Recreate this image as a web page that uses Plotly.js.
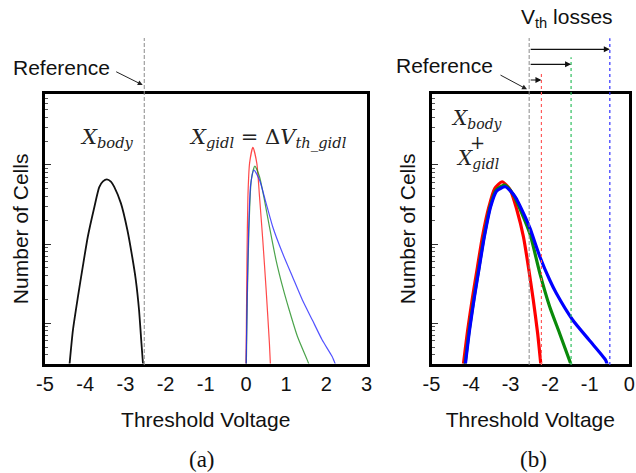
<!DOCTYPE html>
<html>
<head>
<meta charset="utf-8">
<script src="https://cdn.plot.ly/plotly-3.0.1.min.js"></script>
<style>html,body{margin:0;padding:0;background:#fff;}#chart{width:636px;height:473px;}</style>
</head>
<body>
<div id="chart"></div>
<script>
// ---------- data ----------
// x tick labels
const xTickValsA = [-5, -4, -3, -2, -1, 0, 1, 2, 3];
const xTickTextA = ['-5', '-4', '-3', '-2', '-1', '0', '1', '2', '3'];
const xTickValsB = [-5, -4, -3, -2, -1, 0];
const xTickTextB = ['-5', '-4', '-3', '-2', '-1', '0'];

// panel (a): X_body distribution
const bodyX = [-4.39, -4.305, -4.18, -4.06, -3.935, -3.77, -3.65, -3.558, -3.46, -3.36, -3.28, -3.11, -2.95, -2.83, -2.74, -2.66, -2.60, -2.56];
const bodyY = [3.0, 8.2, 21.7, 51.9, 124, 297, 525, 620, 658, 617, 533, 327, 151, 69.3, 35.2, 14.7, 5.6, 3.0];

// panel (a): X_gidl distributions
const gidlRedX = [0.0, 0.01, 0.025, 0.049, 0.091, 0.173, 0.271, 0.338, 0.419, 0.503, 0.584, 0.609];
const gidlRedY = [3.0, 8.2, 57.7, 396, 1057, 1667, 1047, 396, 113, 26.3, 5.6, 3.0];
const gidlGreenX = [0.01, 0.035, 0.074, 0.133, 0.222, 0.338, 0.461, 0.584, 0.749, 0.912, 1.077, 1.282, 1.529, 1.571];
const gidlGreenY = [3.0, 21.7, 151, 644, 968, 710, 360, 166, 63, 29, 14.7, 6.8, 3.4, 3.0];
const gidlBlueX = [0.005, 0.03, 0.067, 0.116, 0.197, 0.338, 0.503, 0.666, 0.912, 1.159, 1.405, 1.652, 1.898, 2.145, 2.229];
const gidlBlueY = [3.0, 21.7, 151, 557, 863, 645, 327, 166, 76.6, 38.7, 19.7, 11, 6.15, 3.8, 3.0];

// panel (b): X_body + X_gidl distributions
const sumRedX = [-4.195, -4.085, -3.96, -3.836, -3.712, -3.547, -3.398, -3.213, -3.006, -2.84, -2.675, -2.55, -2.426, -2.316, -2.234];
const sumRedY = [3.0, 8.2, 21.7, 51.9, 124, 297, 507, 614, 482, 270, 124, 51.9, 19.7, 7.5, 3.0];
const sumGreenX = [-4.153, -4.046, -3.921, -3.797, -3.672, -3.517, -3.368, -3.149, -2.924, -2.715, -2.508, -2.259, -2.01, -1.761, -1.47];
const sumGreenY = [3.0, 8.2, 21.7, 51.9, 124, 297, 482, 557, 417, 245, 134, 42.8, 16.2, 7.5, 3.0];
const sumBlueX = [-4.145, -4.038, -3.914, -3.789, -3.664, -3.505, -3.355, -3.131, -2.882, -2.633, -2.508, -2.259, -2.01, -1.843, -1.429, -1.013, -0.597, -0.557];
const sumBlueY = [3.0, 8.2, 21.7, 51.9, 124, 297, 468, 531, 396, 222, 158, 69.3, 35.2, 23.9, 11.0, 6.15, 3.44, 3.0];

// reference and Vth-loss marker positions (threshold voltage)
const refX = -2.53;
const lossX = [-2.22, -1.47, -0.49];
const lossColors = ['#ff5a5a', '#2fbf5f', '#3030ff'];

// ---------- helpers ----------
const W = 636, H = 473;
const px = v => v / W;
const py = v => 1 - v / H;
const SANS = 'Liberation Sans, Arial, sans-serif';
const SERIF = 'Liberation Serif, Times New Roman, serif';
const MATH = 'DejaVu Serif, serif';

// log-axis tick positions
const majorVals = [10, 100, 1000];
const minorVals = [];
[1, 10, 100, 1000].forEach(d => { for (let k = 2; k <= 9; k++) minorVals.push(k * d); });

function line(x, y, color, width, xa, ya) {
  return { x: x, y: y, xaxis: xa, yaxis: ya, type: 'scatter', mode: 'lines',
    line: { color: color, width: width, shape: 'spline', smoothing: 0.6 }, hoverinfo: 'skip', showlegend: false };
}

const data = [
  line(bodyX, bodyY, '#111111', 1.8, 'x', 'y'),
  line(gidlRedX, gidlRedY, 'rgba(255,40,40,0.85)', 1.2, 'x', 'y'),
  line(gidlGreenX, gidlGreenY, 'rgba(30,140,30,0.8)', 1.2, 'x', 'y'),
  line(gidlBlueX, gidlBlueY, 'rgba(40,40,255,0.8)', 1.2, 'x', 'y'),
  line(sumRedX, sumRedY, '#ff0000', 3.2, 'x2', 'y2'),
  line(sumGreenX, sumGreenY, '#0a8a0a', 3.2, 'x2', 'y2'),
  line(sumBlueX, sumBlueY, '#0000ff', 3.2, 'x2', 'y2')
];

function xAxis(dom, rng, tv, tt) {
  return {
    domain: dom, range: rng, tickvals: tv, ticktext: tt, ticks: '',
    showline: true, mirror: true, linecolor: '#000', linewidth: 3,
    showgrid: false, zeroline: false, fixedrange: true,
    tickfont: { family: SANS, size: 20, color: '#111' },
    title: { text: 'Threshold Voltage', font: { family: SANS, size: 21, color: '#111' }, standoff: 19 }
  };
}
function yAxis(dom, anchor) {
  return {
    domain: dom, type: 'log', range: [0.492, 3.894], anchor: anchor,
    showline: true, mirror: true, linecolor: '#000', linewidth: 3,
    showgrid: false, zeroline: false, showticklabels: false, fixedrange: true,
    tickvals: majorVals, ticks: 'inside', ticklen: 6, tickwidth: 1, tickcolor: '#333',
    minor: { tickvals: minorVals, ticks: 'inside', ticklen: 3, tickwidth: 1, tickcolor: '#555', showgrid: false },
    title: { text: 'Number of Cells', font: { family: SANS, size: 21, color: '#111' }, standoff: 8 }
  };
}

const yDom = [py(363.5), py(94.2)];

const shapes = [
  // reference dashed lines
  { type: 'line', xref: 'x', yref: 'paper', x0: refX, x1: refX, y0: py(365), y1: py(38),
    line: { color: '#8a8a8a', width: 1, dash: '4px,2px' } },
  { type: 'line', xref: 'x2', yref: 'paper', x0: refX, x1: refX, y0: py(365), y1: py(38),
    line: { color: '#8a8a8a', width: 1, dash: '4px,2px' } }
];
const lossTops = [71.7, 57.3, 38.3];
lossX.forEach((v, i) => {
  shapes.push({ type: 'line', xref: 'x2', yref: 'paper', x0: v, x1: v, y0: py(365), y1: py(lossTops[i]),
    line: { color: lossColors[i], width: 1.2, dash: 'dot' } });
});

function label(xp, yp, text, font) {
  return { xref: 'paper', yref: 'paper', x: px(xp), y: py(yp), text: text, showarrow: false,
    xanchor: 'center', yanchor: 'middle', font: font };
}
const sansF = { family: SANS, size: 21, color: '#111' };
const mathF = { family: MATH, size: 21, color: '#222' };
const mathFb = { family: MATH, size: 20, color: '#222' };
const plusF = { family: MATH, size: 18, color: '#222' };
const serifF = { family: SERIF, size: 23, color: '#111' };

const annotations = [
  // panel labels
  label(202, 459, '(a)', serifF),
  label(533, 459, '(b)', serifF),
  // Reference labels
  label(61, 67, 'Reference', sansF),
  label(444, 65, 'Reference', sansF),
  { xref: 'paper', yref: 'paper', x: px(142.7), y: py(85), text: '', showarrow: true,
    ax: -28, ay: -14, arrowhead: 2, arrowsize: 1, arrowwidth: 1, arrowcolor: '#222', standoff: 0 },
  { xref: 'paper', yref: 'paper', x: px(527), y: py(89.3), text: '', showarrow: true,
    ax: -28, ay: -15, arrowhead: 2, arrowsize: 1, arrowwidth: 1, arrowcolor: '#222', standoff: 0 },
  // Vth losses
  label(567, 18, 'V<sub>th</sub> losses', sansF),
  // math labels
  label(107, 138, '<i>X</i><sub><i>body</i></sub>', mathF),
  label(268, 138, '<i>X</i><sub><i>gidl</i></sub> = Δ<i>V</i><sub><i>th_gidl</i></sub>', mathF),
  label(477, 119, '<i>X</i><sub><i>body</i></sub>', mathFb),
  label(477, 142, '+', plusF),
  label(477, 159, '<i>X</i><sub><i>gidl</i></sub>', mathFb)
];
// Vth-loss arrows from the reference line to each loss line
const arrowYs = [80, 64.3, 49.3];
lossX.forEach((v, i) => {
  annotations.push({ xref: 'x2', yref: 'paper', x: v, y: py(arrowYs[i]), axref: 'x2', ax: refX, ayref: 'pixel', ay: 0,
    text: '', showarrow: true, arrowhead: 2, arrowsize: 1, arrowwidth: 1.2, arrowcolor: '#111', standoff: 0 });
});

const layout = {
  width: W, height: H,
  margin: { l: 0, r: 0, t: 0, b: 0 },
  paper_bgcolor: '#fff', plot_bgcolor: '#fff',
  showlegend: false,
  xaxis: Object.assign(xAxis([px(45), px(366.5)], [-5, 3], xTickValsA, xTickTextA), { anchor: 'y' }),
  yaxis: yAxis(yDom, 'x'),
  xaxis2: Object.assign(xAxis([px(431.5), px(629.2)], [-5, 0], xTickValsB, xTickTextB), { anchor: 'y2' }),
  yaxis2: yAxis(yDom, 'x2'),
  shapes: shapes,
  annotations: annotations
};

Plotly.newPlot('chart', data, layout, { staticPlot: true, displayModeBar: false });
</script>
</body>
</html>
